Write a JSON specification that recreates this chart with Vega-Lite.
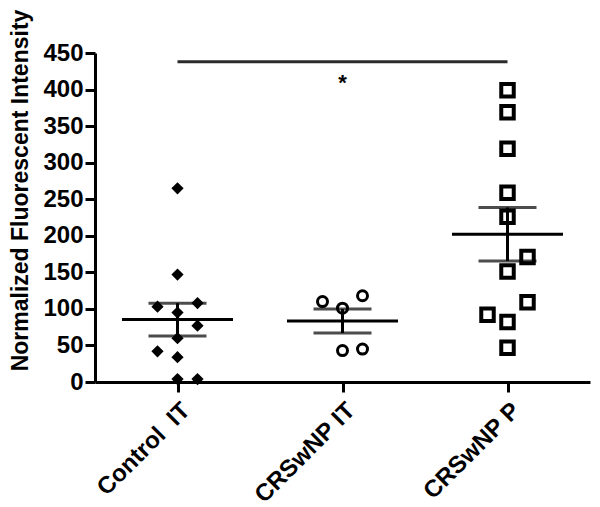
{
  "$schema": "https://vega.github.io/schema/vega-lite/v6.json",
  "width": 495,
  "height": 329,
  "autosize": {"type": "none"},
  "padding": {"left": 95, "top": 53, "right": 10, "bottom": 125},
  "background": "white",
  "config": {
    "view": {"stroke": null},
    "font": "Liberation Sans",
    "axis": {
      "domainColor": "black",
      "domainWidth": 3,
      "tickColor": "black",
      "tickWidth": 3,
      "tickSize": 10,
      "labelFont": "Liberation Sans",
      "labelFontWeight": "bold",
      "labelFontSize": 24,
      "labelColor": "black",
      "titleFont": "Liberation Sans",
      "titleFontWeight": "bold",
      "titleFontSize": 23,
      "titleColor": "black",
      "grid": false
    }
  },
  "datasets": {
    "points": [
      {"group": "Control IT", "value": 265, "col": 0},
      {"group": "Control IT", "value": 147, "col": 0},
      {"group": "Control IT", "value": 103, "col": -1},
      {"group": "Control IT", "value": 108, "col": 1},
      {"group": "Control IT", "value": 95, "col": 0},
      {"group": "Control IT", "value": 77, "col": 1},
      {"group": "Control IT", "value": 60, "col": 0},
      {"group": "Control IT", "value": 42, "col": -1},
      {"group": "Control IT", "value": 34, "col": 0},
      {"group": "Control IT", "value": 4, "col": 0},
      {"group": "Control IT", "value": 4, "col": 1},
      {"group": "CRSwNP IT", "value": 110, "col": -1},
      {"group": "CRSwNP IT", "value": 118, "col": 1},
      {"group": "CRSwNP IT", "value": 101, "col": 0},
      {"group": "CRSwNP IT", "value": 43, "col": 0},
      {"group": "CRSwNP IT", "value": 45, "col": 1},
      {"group": "CRSwNP P", "value": 399, "col": 0},
      {"group": "CRSwNP P", "value": 369, "col": 0},
      {"group": "CRSwNP P", "value": 319, "col": 0},
      {"group": "CRSwNP P", "value": 259, "col": 0},
      {"group": "CRSwNP P", "value": 226, "col": 0},
      {"group": "CRSwNP P", "value": 171, "col": 1},
      {"group": "CRSwNP P", "value": 151, "col": 0},
      {"group": "CRSwNP P", "value": 109, "col": 1},
      {"group": "CRSwNP P", "value": 92, "col": -1},
      {"group": "CRSwNP P", "value": 82, "col": 0},
      {"group": "CRSwNP P", "value": 47, "col": 0}
    ],
    "sig": [
      {"from": "Control IT", "to": "CRSwNP P", "mid": "CRSwNP IT", "bar": 438, "star": 399, "label": "*"}
    ]
  },
  "encoding": {
    "x": {
      "field": "group",
      "type": "nominal",
      "title": null,
      "sort": ["Control IT", "CRSwNP IT", "CRSwNP P"],
      "scale": {"type": "point", "padding": 0.5, "domain": ["Control IT", "CRSwNP IT", "CRSwNP P"]},
      "axis": {
        "title": null,
        "labelAngle": -45,
        "labelAlign": "right",
        "labelBaseline": "top",
        "labelPadding": 6,
        "labelFontSize": 24,
        "labelExpr": "datum.value == 'Control IT' ? 'Control\u00a0\u00a0IT' : datum.value"
      }
    },
    "y": {
      "field": "value",
      "type": "quantitative",
      "title": "Normalized Fluorescent Intensity",
      "scale": {"domain": [0, 450], "nice": false},
      "axis": {
        "title": "Normalized Fluorescent Intensity",
        "values": [0, 50, 100, 150, 200, 250, 300, 350, 400, 450],
        "labelPadding": 2,
        "titleAngle": -90,
        "titleX": -75,
        "titleY": 137,
        "titleBaseline": "middle",
        "titleAlign": "center"
      }
    }
  },
  "layer": [
    {
      "data": {"name": "points"},
      "transform": [{"filter": "datum.group == 'Control IT'"}],
      "mark": {"type": "point", "shape": "diamond", "filled": true, "color": "black", "size": 150, "opacity": 1},
      "encoding": {
        "xOffset": {"field": "col", "type": "quantitative", "scale": {"domain": [-1, 1], "range": [-20, 20]}}
      }
    },
    {
      "data": {"name": "points"},
      "transform": [{"filter": "datum.group == 'CRSwNP IT'"}],
      "mark": {"type": "point", "shape": "circle", "filled": false, "fill": "white", "stroke": "black", "strokeWidth": 3, "size": 100, "opacity": 1},
      "encoding": {
        "xOffset": {"field": "col", "type": "quantitative", "scale": {"domain": [-1, 1], "range": [-20, 20]}}
      }
    },
    {
      "data": {"name": "points"},
      "transform": [{"filter": "datum.group == 'CRSwNP P'"}],
      "mark": {"type": "point", "shape": "square", "filled": false, "fill": "white", "stroke": "black", "strokeWidth": 4, "size": 156, "opacity": 1},
      "encoding": {
        "xOffset": {"field": "col", "type": "quantitative", "scale": {"domain": [-1, 1], "range": [-20, 20]}}
      }
    },
    {
      "data": {"name": "points"},
      "mark": {"type": "errorbar", "extent": "stderr", "color": "black", "thickness": 3, "ticks": {"size": 58, "thickness": 3, "color": "black"}}
    },
    {
      "data": {"name": "points"},
      "mark": {"type": "tick", "color": "black", "size": 111, "thickness": 3, "opacity": 1},
      "encoding": {
        "y": {"aggregate": "mean", "field": "value", "type": "quantitative", "title": "Normalized Fluorescent Intensity"}
      }
    },
    {
      "data": {"name": "sig"},
      "mark": {"type": "rule", "color": "#2a2a2a", "strokeWidth": 3},
      "encoding": {
        "x": {"field": "from", "type": "nominal", "title": null},
        "x2": {"field": "to"},
        "y": {"field": "bar", "type": "quantitative", "title": "Normalized Fluorescent Intensity"}
      }
    },
    {
      "data": {"name": "sig"},
      "mark": {"type": "text", "fontSize": 22, "fontWeight": "bold", "color": "black", "baseline": "alphabetic", "align": "center"},
      "encoding": {
        "x": {"field": "mid", "type": "nominal", "title": null},
        "y": {"field": "star", "type": "quantitative", "title": "Normalized Fluorescent Intensity"},
        "text": {"field": "label"}
      }
    }
  ]
}
